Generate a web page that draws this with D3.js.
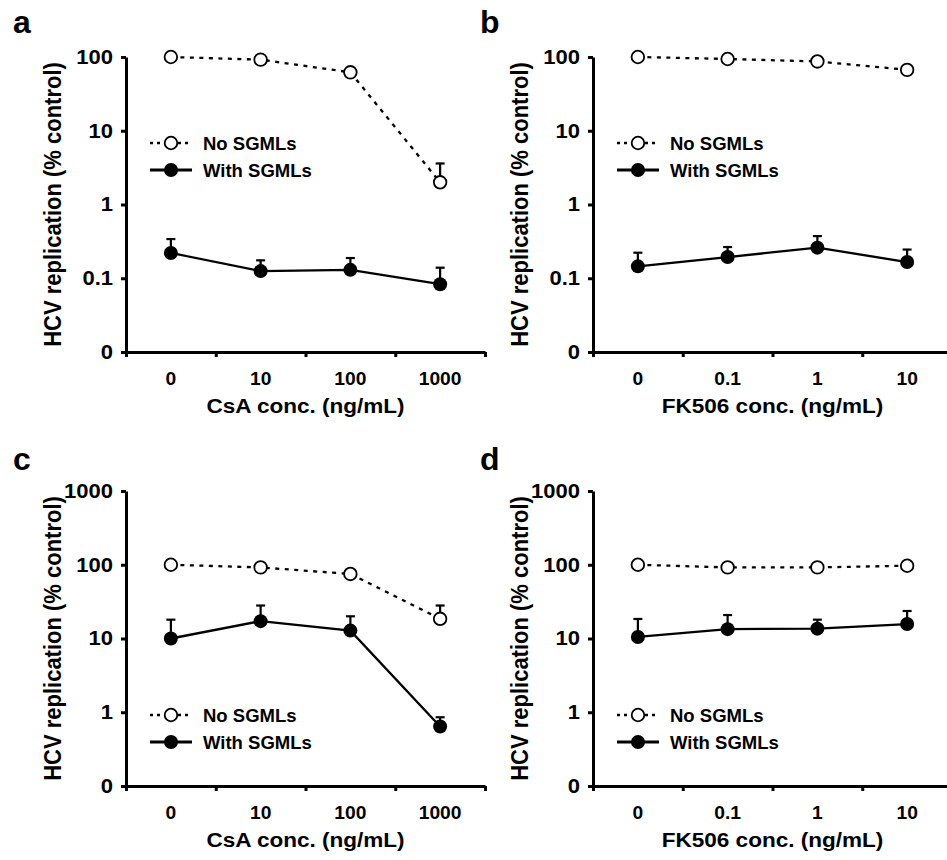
<!DOCTYPE html>
<html><head><meta charset="utf-8">
<script src="https://cdn.jsdelivr.net/npm/d3@7"></script>
<style>
body{margin:0;background:#fff}
text{font-family:"Liberation Sans",Arial,sans-serif;font-weight:bold;fill:#000}
</style>
</head><body>
<svg id="chart" width="947" height="860"></svg>
<script>
// ---- data ----
const csaCategories = ["0", "10", "100", "1000"];
const fkCategories = ["0", "0.1", "1", "10"];
const yTicksLow = [0.01, 0.1, 1, 10, 100];
const yLabelsLow = ["0", "0.1", "1", "10", "100"];
const yTicksHigh = [0.1, 1, 10, 100, 1000];
const yLabelsHigh = ["0", "1", "10", "100", "1000"];
const seriesNames = ["No SGMLs", "With SGMLs"];

const aNo = [100, 92, 62, 2.0];
const aNoErr = [null, null, null, 3.6];
const aWith = [0.22, 0.125, 0.13, 0.083];
const aWithErr = [0.34, 0.175, 0.188, 0.139];

const bNo = [100, 94, 87, 67];
const bNoErr = [null, null, null, null];
const bWith = [0.145, 0.194, 0.26, 0.166];
const bWithErr = [0.222, 0.265, 0.373, 0.245];

const cNo = [100, 92, 75, 18.5];
const cNoErr = [null, null, null, 28];
const cWith = [10, 17.2, 12.8, 0.64];
const cWithErr = [18, 28, 20, 0.855];

const dNo = [100, 92, 92, 97];
const dNoErr = [null, null, null, null];
const dWith = [10.5, 13.4, 13.6, 15.7];
const dWithErr = [18.4, 20.8, 18, 23.6];

const yTitle = "HCV replication (% control)";
const csaTitle = "CsA conc. (ng/mL)";
const fkTitle = "FK506 conc. (ng/mL)";

// ---- layout ----
const panels = [
  {letter:"a", cats:csaCategories, xt:csaTitle, yt:yTicksLow, yl:yLabelsLow, no:aNo, noE:aNoErr, w:aWith, wE:aWithErr,
   left:126, right:485, top:57, bottom:352, lx:13, ly:33, legY:143},
  {letter:"b", cats:fkCategories, xt:fkTitle, yt:yTicksLow, yl:yLabelsLow, no:bNo, noE:bNoErr, w:bWith, wE:bWithErr,
   left:593, right:952, top:57, bottom:352, lx:480, ly:33, legY:143},
  {letter:"c", cats:csaCategories, xt:csaTitle, yt:yTicksHigh, yl:yLabelsHigh, no:cNo, noE:cNoErr, w:cWith, wE:cWithErr,
   left:126, right:485, top:491, bottom:786, lx:13, ly:470, legY:715},
  {letter:"d", cats:fkCategories, xt:fkTitle, yt:yTicksHigh, yl:yLabelsHigh, no:dNo, noE:dNoErr, w:dWith, wE:dWithErr,
   left:593, right:952, top:491, bottom:786, lx:480, ly:470, legY:715}
];

const svg = d3.select("#chart");
const R = 6.3, RF = 7;

panels.forEach(p => {
  const g = svg.append("g");
  const x = d3.scaleBand().domain(p.cats).range([p.left, p.right]).paddingInner(0).paddingOuter(0);
  const y = d3.scaleLog().domain([p.yt[0], p.yt[p.yt.length-1]]).range([p.bottom, p.top]);
  const xb = d3.scaleLinear().domain([0, p.cats.length]).range([p.left, p.right]);

  // panel letter
  g.append("text").attr("x", p.lx).attr("y", p.ly).attr("font-size", 32).text(p.letter);

  // y axis
  const ya = g.append("g").attr("transform", `translate(${p.left},0)`)
    .call(d3.axisLeft(y).tickValues(p.yt).tickFormat((d,i)=>p.yl[i]).tickSize(5).tickSizeOuter(0).tickPadding(8));
  ya.selectAll("path,line").attr("stroke", "#000").attr("stroke-width", 3);
  ya.selectAll("text").attr("font-size", 20).attr("font-family", null).attr("fill", "#000")
    .attr("transform", function(){ const xx = +this.getAttribute("x"); return `translate(${xx},0) scale(1.1,1) translate(${-xx},0)`; });

  // x axis (ticks at category boundaries)
  const xa = g.append("g").attr("transform", `translate(0,${p.bottom})`)
    .call(d3.axisBottom(xb).tickValues(d3.range(p.cats.length + 1)).tickFormat("").tickSize(5).tickSizeOuter(0));
  xa.selectAll("path,line").attr("stroke", "#000").attr("stroke-width", 3);

  // x labels
  const xl = g.append("g").attr("transform", `translate(0,${p.bottom})`)
    .call(d3.axisBottom(x).tickSize(0).tickPadding(20));
  xl.select(".domain").remove();
  xl.selectAll("text").attr("font-size", 18.5).attr("font-family", null).attr("fill", "#000")
    .attr("transform", "scale(1.04,1)");

  // titles
  const tx = (p.left + p.right) / 2;
  g.append("text").attr("transform", `translate(${tx},${p.bottom + 61}) scale(1.1,1)`)
    .attr("text-anchor", "middle").attr("font-size", 20.5).text(p.xt);
  g.append("text").attr("transform", `translate(${p.left - 73},${(p.top + p.bottom) / 2}) scale(1.12,1) rotate(-90)`)
    .attr("text-anchor", "middle").attr("dominant-baseline", "central").attr("font-size", 22).text(yTitle);

  const cx = (c) => x(c) + x.bandwidth() / 2;
  const line = d3.line().x(d => cx(d.c)).y(d => y(d.v));
  const noData = p.cats.map((c,i)=>({c, v:p.no[i], e:p.noE[i]}));
  const wData = p.cats.map((c,i)=>({c, v:p.w[i], e:p.wE[i]}));

  g.append("path").datum(noData).attr("d", line).attr("fill", "none")
    .attr("stroke", "#000").attr("stroke-width", 2.3).attr("stroke-dasharray", "4,5.5");
  g.append("path").datum(wData).attr("d", line).attr("fill", "none")
    .attr("stroke", "#000").attr("stroke-width", 2.3);

  [noData, wData].forEach(data => {
    const eb = data.filter(d => d.e != null);
    g.selectAll(null).data(eb).enter().append("line")
      .attr("x1", d=>cx(d.c)).attr("x2", d=>cx(d.c)).attr("y1", d=>y(d.v)).attr("y2", d=>y(d.e))
      .attr("stroke", "#000").attr("stroke-width", 2.2);
    g.selectAll(null).data(eb).enter().append("line")
      .attr("x1", d=>cx(d.c)-4.5).attr("x2", d=>cx(d.c)+4.5).attr("y1", d=>y(d.e)).attr("y2", d=>y(d.e))
      .attr("stroke", "#000").attr("stroke-width", 2.2);
  });

  g.selectAll(null).data(noData).enter().append("circle")
    .attr("cx", d=>cx(d.c)).attr("cy", d=>y(d.v)).attr("r", R)
    .attr("fill", "#fff").attr("stroke", "#000").attr("stroke-width", 1.8);
  g.selectAll(null).data(wData).enter().append("circle")
    .attr("cx", d=>cx(d.c)).attr("cy", d=>y(d.v)).attr("r", RF).attr("fill", "#000");

  // legend
  const lg = g.append("g");
  seriesNames.forEach((name, i) => {
    const ly = p.legY + i * 27;
    lg.append("line").attr("x1", p.left + 24).attr("x2", p.left + 66).attr("y1", ly).attr("y2", ly)
      .attr("stroke", "#000").attr("stroke-width", i === 0 ? 2.6 : 3)
      .attr("stroke-dasharray", i === 0 ? "3,4" : null);
    lg.append("circle").attr("cx", p.left + 45).attr("cy", ly).attr("r", i === 0 ? R : RF)
      .attr("fill", i === 0 ? "#fff" : "#000").attr("stroke", "#000").attr("stroke-width", i === 0 ? 1.8 : 0);
    lg.append("text").attr("x", p.left + 77).attr("y", ly).attr("dominant-baseline", "central")
      .attr("font-size", 18.5).text(name);
  });
});
</script>
</body></html>
